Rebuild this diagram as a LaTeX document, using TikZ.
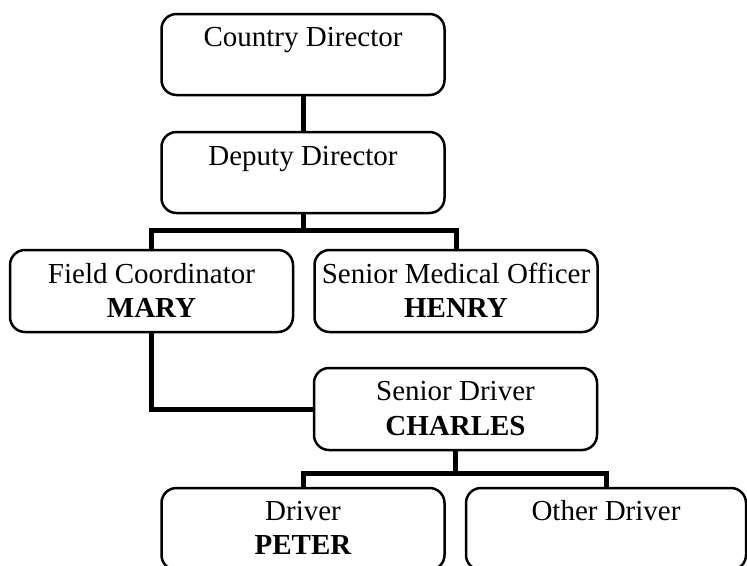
\documentclass[tikz,border=0pt]{standalone}
\usepackage{fontspec}
\setmainfont{Liberation Serif}
\begin{document}
\begin{tikzpicture}[x=1pt,y=-1pt,
  box/.style={draw, line width=2.5pt, rounded corners=15pt, inner sep=0pt, minimum width=283pt, minimum height=82pt},
  conn/.style={line width=5pt, line join=miter, line cap=butt},
  lbl/.style={anchor=base, inner sep=0pt, font=\fontsize{29}{34}\selectfont},
  nm/.style={anchor=base, inner sep=0pt, font=\fontsize{29}{34}\selectfont\bfseries}]
\useasboundingbox (0,0) rectangle (747,565);
% boxes
\node[box, minimum height=81pt] (cd) at (303,54.5) {};
\node[box, minimum height=81pt] (dd) at (303,172.5) {};
\node[box] (fc) at (151.5,291) {};
\node[box] (smo) at (456,291) {};
\node[box] (sd) at (455.5,409) {};
\node[box] (drv) at (303,529) {};
\node[box, minimum width=280pt] (od) at (606,529) {};
% texts
\node[lbl] (cdt) at (303,46) {Country Director};
\node[lbl] (ddt) at (303,165) {Deputy Director};
\node[lbl] (fct) at (151.5,283) {Field Coordinator};
\node[nm] (fcn) at (151.5,317) {MARY};
\node[lbl] (smot) at (456,283) {Senior Medical Officer};
\node[nm] (smon) at (456,317) {HENRY};
\node[lbl] (sdt) at (455.5,400) {Senior Driver};
\node[nm] (sdn) at (455.5,435) {CHARLES};
\node[lbl] (drvt) at (303,520) {Driver};
\node[nm] (drvn) at (303,554) {PETER};
\node[lbl] (odt) at (606,520) {Other Driver};
% connectors
\coordinate (b1) at (303,230);
\coordinate (b2) at (455.5,473);
\draw[conn] (cd.south) -- (dd.north);
\draw[conn] (dd.south) -- (b1);
\draw[conn] (fc.north) |- (b1) -| (smo.north);
\draw[conn] (fc.south) |- (sd.west);
\draw[conn] (sd.south) -- (b2);
\draw[conn] (drv.north) |- (b2) -| (od.north);
\end{tikzpicture}
\end{document}
